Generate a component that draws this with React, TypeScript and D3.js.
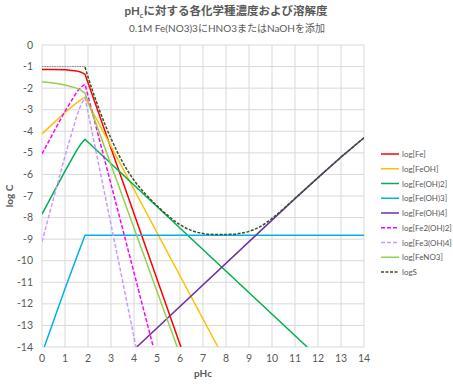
import React from "react";
import * as d3 from "d3";

type Pt = [number, number];

const xTicks = [0, 1, 2, 3, 4, 5, 6, 7, 8, 9, 10, 11, 12, 13, 14];
const yTicks = [0, -1, -2, -3, -4, -5, -6, -7, -8, -9, -10, -11, -12, -13, -14];

const logFe: Pt[] = [[0, -1.14], [0.5, -1.14], [1, -1.15], [1.5, -1.2], [1.7, -1.26], [1.87, -1.36], [6.04, -14]];
const logFeOH: Pt[] = [[0, -4.12], [0.5, -3.62], [1, -3.13], [1.5, -2.68], [1.7, -2.53], [1.87, -2.43], [7.65, -14]];
const logFeOH2: Pt[] = [[0, -7.84], [0.5, -6.84], [1, -5.85], [1.5, -4.9], [1.7, -4.58], [1.87, -4.37], [11.53, -14]];
const logFeOH3: Pt[] = [[0.1, -14], [0.5, -12.8], [1, -11.3], [1.5, -9.86], [1.87, -8.82], [14, -8.82]];
const logFeOH4: Pt[] = [[4.12, -14], [10, -8.12], [11, -7.12], [12, -6.15], [13, -5.2], [14, -4.3]];
const logFe2OH2: Pt[] = [[0, -5.05], [0.5, -4.05], [1, -3.07], [1.5, -2.2], [1.7, -1.95], [1.87, -1.82], [4.84, -14]];
const logFe3OH4: Pt[] = [[0, -9.12], [0.5, -7.12], [1, -5.15], [1.5, -3.33], [1.7, -2.75], [1.87, -2.44], [4.09, -14]];
const logFeNO3: Pt[] = [[0, -1.7], [0.5, -1.76], [1, -1.85], [1.5, -2.0], [1.7, -2.1], [1.87, -2.24], [5.88, -14]];
const logSFlat: Pt[] = [[0, -1.0], [1.87, -1.0]];
const logS: Pt[] = [
  [1.87, -1.02], [2, -1.48], [2.25, -2.28], [2.5, -3.03], [2.75, -3.71], [3, -4.33], [3.5, -5.42],
  [4, -6.27], [4.5, -6.91], [5, -7.45], [5.5, -7.93], [6, -8.33], [6.5, -8.6], [7, -8.74],
  [7.5, -8.78], [8, -8.78], [8.5, -8.75], [9, -8.64], [9.5, -8.41], [10, -8.04], [10.5, -7.59],
  [11, -7.11], [12, -6.15], [13, -5.2], [14, -4.3],
];

const seriesNames = [
  "log[Fe]", "log[FeOH]", "log[Fe(OH)2]", "log[Fe(OH)3]", "log[Fe(OH)4]",
  "log[Fe2(OH)2]", "log[Fe3(OH)4]", "log[FeNO3]", "logS",
];
const seriesData = [logFe, logFeOH, logFeOH2, logFeOH3, logFeOH4, logFe2OH2, logFe3OH4, logFeNO3, logS];
const seriesColors = ["#FF0000", "#FFC000", "#00B050", "#00B0F0", "#7030A0", "#FF00FF", "#CC99FF", "#92D050", "#375623"];
const seriesDash = ["", "", "", "", "", "4,2", "4,2", "", "3,1.5"];

const W = 453;
const H = 384;
const left = 42;
const right = 364;
const top = 45;
const bottom = 347;
const font = "Lato, 'Noto Sans CJK JP', sans-serif";
const textColor = "#595959";

export default function App() {
  const x = d3.scaleLinear().domain([0, 14]).range([left, right]);
  const y = d3.scaleLinear().domain([-14, 0]).range([bottom, top]);
  const line = d3.line<Pt>().x((d) => x(d[0])).y((d) => y(d[1]));
  const smooth = d3.line<Pt>().x((d) => x(d[0])).y((d) => y(d[1])).curve(d3.curveMonotoneX);

  return (
    <svg width={W} height={H} style={{ position: "absolute", left: 0, top: 0, background: "#fff" }} fontFamily={font}>
      <defs>
        <clipPath id="plot">
          <rect x={left} y={top - 2} width={right - left} height={bottom - top + 2} />
        </clipPath>
      </defs>
      <rect x={0} y={0} width={W} height={H} fill="#fff" />
      <text x={226} y={15} textAnchor="middle" fontSize={11.5} fontWeight="bold" fill={textColor}>
        pH<tspan fontSize={7.5} dy={3}>c</tspan>
        <tspan dy={-3}>に対する各化学種濃度および溶解度</tspan>
      </text>
      <text x={227} y={32} textAnchor="middle" fontSize={10} fill={textColor}>
        0.1M Fe(NO3)3にHNO3またはNaOHを添加
      </text>
      {xTicks.map((t) => (
        <line key={"gx" + t} x1={x(t)} x2={x(t)} y1={top} y2={bottom} stroke="#D9D9D9" strokeWidth={1} />
      ))}
      {yTicks.map((t) => (
        <line key={"gy" + t} x1={left} x2={right} y1={y(t)} y2={y(t)} stroke="#D9D9D9" strokeWidth={1} />
      ))}
      {xTicks.map((t) => (
        <text key={"tx" + t} x={x(t)} y={bottom + 15} textAnchor="middle" fontSize={10.5} fill={textColor}>
          {String(t)}
        </text>
      ))}
      {yTicks.map((t) => (
        <text key={"ty" + t} x={33} y={y(t) + 3.5} textAnchor="end" fontSize={10.5} fill={textColor}>
          {String(t)}
        </text>
      ))}
      <text x={203} y={377} textAnchor="middle" fontSize={10} fontWeight="bold" fill={textColor}>pHc</text>
      <text transform={`translate(13,${(top + bottom) / 2}) rotate(-90)`} textAnchor="middle" fontSize={10} fontWeight="bold" fill={textColor}>
        log C
      </text>
      <g clipPath="url(#plot)">
        {seriesData.map((d, i) => {
          const isS = i === 8;
          return (
            <path
              key={"s" + i}
              d={(isS ? smooth(d) : line(d)) || ""}
              fill="none"
              stroke={seriesColors[i]}
              strokeWidth={1.5}
              strokeDasharray={seriesDash[i] || undefined}
            />
          );
        })}
        <path d={line(logSFlat) || ""} fill="none" stroke="#8a8a8a" strokeWidth={1} strokeDasharray="1.5,1" />
      </g>
      {seriesNames.map((n, i) => {
        const ly = 154 + i * 14.75;
        return (
          <g key={"lg" + i}>
            <line x1={381} x2={399} y1={ly} y2={ly} stroke={seriesColors[i]} strokeWidth={1.5} strokeDasharray={seriesDash[i] || undefined} />
            <text x={402} y={ly + 3} fontSize={8} fill={textColor}>{n}</text>
          </g>
        );
      })}
    </svg>
  );
}
